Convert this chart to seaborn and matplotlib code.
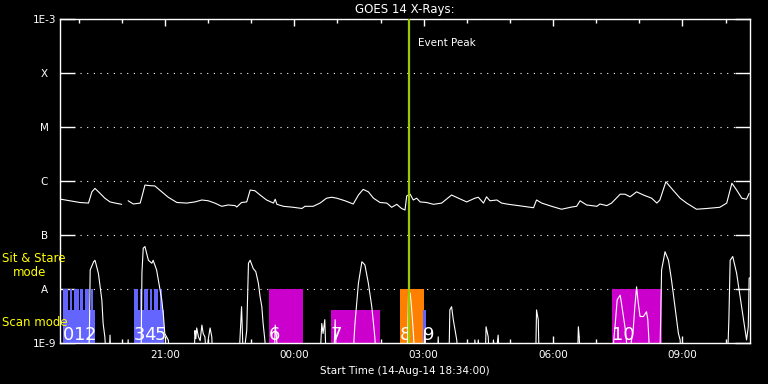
import numpy as np
import pandas as pd
import matplotlib
matplotlib.use('Agg')
import matplotlib.pyplot as plt
import matplotlib.dates as mdates
from matplotlib.ticker import FixedLocator, FixedFormatter, NullLocator
import seaborn as sns
from datetime import timedelta

# Periodo del grafico
start = pd.Timestamp('2014-08-14 18:34:00')
end = pd.Timestamp('2014-08-15 10:34:00')
event_peak = pd.Timestamp('2014-08-15 02:40:00')

# Canal largo GOES (1-8 A): horas desde el inicio, flujo en W/m2 (nan = hueco)
long_hours = [0.02, 0.23, 0.46, 0.66, 0.74, 0.81, 0.93, 1.04, 1.16, 1.28, 1.43, 1.50,
              1.58, 1.70, 1.86, 1.91, 1.97, 2.09, 2.20, 2.36, 2.51, 2.71, 2.94, 3.13,
              3.29, 3.44, 3.59, 3.75, 3.90, 4.06, 4.10, 4.21, 4.33, 4.41, 4.52, 4.64,
              4.79, 4.95, 4.99, 5.03, 5.18, 5.41, 5.61, 5.68, 5.87, 6.03, 6.18, 6.30,
              6.42, 6.61, 6.80, 6.92, 7.03, 7.15, 7.27, 7.42, 7.58, 7.69, 7.81, 7.92,
              8.00, 8.04, 8.12, 8.19, 8.27, 8.35, 8.50, 8.66, 8.85, 9.08, 9.24, 9.43,
              9.62, 9.70, 9.82, 9.89, 9.97, 10.13, 10.24, 10.40, 10.63, 10.98, 11.05,
              11.17, 11.40, 11.63, 11.87, 11.98, 12.06, 12.21, 12.45, 12.52, 12.68,
              12.79, 12.99, 13.10, 13.22, 13.37, 13.53, 13.72, 13.84, 13.91, 14.05,
              14.18, 14.38, 14.53, 14.76, 15.00, 15.30, 15.46, 15.58, 15.69, 15.81,
              15.92, 15.98]
long_flux = [4.6e-7, 4.3e-7, 4.0e-7, 3.9e-7, 6.3e-7, 7.3e-7, 5.9e-7, 4.8e-7, 4.1e-7, 3.9e-7, 3.7e-7, np.nan,
             4.3e-7, 3.75e-7, 3.9e-7, 5.5e-7, 8.4e-7, 8.2e-7, 8.1e-7, 6.3e-7, 5.0e-7, 4.0e-7, 3.9e-7, 4.1e-7,
             4.45e-7, 4.3e-7, 3.9e-7, 3.4e-7, 3.6e-7, 3.5e-7, 3.3e-7, 4.0e-7, 4.1e-7, 6.8e-7, 6.6e-7, 5.5e-7,
             4.45e-7, 3.9e-7, 4.6e-7, 3.7e-7, 3.4e-7, 3.26e-7, 3.1e-7, 3.4e-7, 3.4e-7, 3.9e-7, 4.8e-7, 5.0e-7,
             4.8e-7, 4.3e-7, 3.75e-7, 5.5e-7, 7.0e-7, 6.3e-7, 4.8e-7, 4.0e-7, 3.9e-7, 3.26e-7, 3.7e-7, 3.1e-7,
             2.9e-7, 5.3e-7, 5.7e-7, 4.45e-7, 4.8e-7, 4.1e-7, 4.0e-7, 3.7e-7, 3.9e-7, 5.5e-7, 4.8e-7, 4.1e-7,
             4.8e-7, 5.0e-7, 3.9e-7, 5.1e-7, 4.3e-7, 4.45e-7, 3.9e-7, 3.7e-7, 3.5e-7, 3.2e-7, 4.45e-7,
             3.9e-7, 3.4e-7, 3.0e-7, 3.3e-7, 3.4e-7, 4.3e-7, 3.6e-7, 3.4e-7, 3.75e-7, 3.5e-7,
             3.9e-7, 5.7e-7, 5.7e-7, 5.1e-7, 6.3e-7, 5.5e-7, 4.8e-7, 3.9e-7, 4.45e-7, 9.7e-7,
             7.3e-7, 4.8e-7, 3.9e-7, 3.0e-7, 3.1e-7, 3.26e-7, 3.9e-7, 9.1e-7, 6.8e-7, 4.8e-7,
             4.6e-7, 5.9e-7]

# Canal corto GOES (0.5-4 A)
short_hours = [0.00, 0.65, 0.68, 0.70, 0.78, 0.81, 0.83, 0.89, 0.97, 1.00, 1.04, 1.07,
               1.14, 1.16, 1.18, 1.56, 1.58, 1.60, 1.88, 1.90, 1.93, 1.97, 2.05, 2.13,
               2.16, 2.24, 2.32, 2.36, 2.40, 2.43, 2.51, 2.55, 3.11, 3.13, 3.15, 3.17,
               3.21, 3.25, 3.29, 3.32, 3.36, 3.40, 3.44, 3.48, 3.52, 3.54, 4.15, 4.21,
               4.25, 4.33, 4.37, 4.41, 4.48, 4.54, 4.60, 4.64, 4.68, 4.71, 4.75, 4.78,
               4.97, 4.99, 5.02, 5.05, 6.03, 6.07, 6.10, 6.14, 6.17, 6.35, 6.38, 6.41,
               6.79, 6.84, 6.92, 7.00, 7.07, 7.15, 7.23, 7.30, 7.33, 8.05, 8.08, 8.12,
               8.15, 8.19, 8.23, 8.43, 8.46, 8.49, 8.75, 8.77, 8.79, 9.02, 9.04, 9.08,
               9.12, 9.20, 9.23, 9.60, 9.62, 9.66, 9.70, 9.73, 9.86, 9.88, 9.93, 9.95,
               10.03, 10.05, 10.10, 10.16, 10.19, 11.03, 11.05, 11.09, 11.11, 12.00,
               12.02, 12.04, 12.06, 12.80, 12.87, 12.92, 12.99, 13.02, 13.10, 13.18,
               13.29, 13.33, 13.37, 13.40, 13.45, 13.53, 13.60, 13.63, 13.68, 13.91,
               13.95, 14.03, 14.11, 14.18, 14.26, 14.34, 14.38, 14.40, 15.48, 15.51,
               15.54, 15.60, 15.69, 15.77, 15.84, 15.92, 15.96, 15.98, 16.00]
short_flux = [5e-10, 5e-10, 1.2e-9, 2.25e-8, 3.2e-8, 3.4e-8, 3.0e-8, 1.95e-8, 6.3e-9, 2.3e-9, 1.3e-9, 5e-10,
              5e-10, 1.4e-9, 5e-10, 5e-10, 1.15e-9, 5e-10, 5e-10, 2.0e-8, 5.7e-8, 6.1e-8, 3.4e-8, 3.0e-8,
              3.4e-8, 2.25e-8, 9.6e-9, 6.3e-9, 3.1e-9, 1.5e-9, 1.14e-9, 5e-10, 5e-10, 1.7e-9, 1.2e-9, 1.9e-9,
              1.3e-9, 1.1e-9, 2.15e-9, 1.5e-9, 1.3e-9, 5e-10, 1.2e-9, 1.9e-9, 1.3e-9, 5e-10, 5e-10, 4.7e-9,
              5e-10, 1.7e-9, 3.0e-8, 3.4e-8, 2.4e-8, 2.1e-8, 1.28e-8, 7.2e-9, 4.7e-9, 2.3e-9, 1.14e-9, 5e-10,
              5e-10, 2.15e-9, 1.3e-9, 5e-10, 5e-10, 2.3e-9, 1.5e-9, 2.7e-9, 5e-10, 5e-10, 2.7e-9, 5e-10,
              5e-10, 2.3e-9, 1.28e-8, 3.2e-8, 2.8e-8, 1.28e-8, 4.7e-9, 1.3e-9, 5e-10, 5e-10, 7.2e-9, 8.4e-9,
              4.7e-9, 1.7e-9, 5e-10, 5e-10, 1.7e-9, 5e-10, 5e-10, 1.3e-9, 5e-10, 5e-10, 4.1e-9, 4.7e-9,
              2.7e-9, 1.14e-9, 5e-10, 5e-10, 1.14e-9, 5e-10, 1.14e-9, 5e-10, 5e-10, 2.0e-9, 1.3e-9, 5e-10,
              5e-10, 1.14e-9, 5e-10, 1.4e-9, 5e-10, 5e-10, 4.1e-9, 2.7e-9, 5e-10, 5e-10,
              2.0e-9, 1.3e-9, 5e-10, 5e-10, 2.0e-9, 6.3e-9, 7.7e-9, 5.4e-9, 2.0e-9, 5e-10,
              1.7e-9, 4.7e-9, 1.1e-8, 6.3e-9, 3.1e-9, 3.1e-9, 3.8e-9, 2.7e-9, 5e-10, 5e-10,
              2.25e-8, 4.9e-8, 3.4e-8, 1.47e-8, 4.7e-9, 1.5e-9, 1.14e-9, 5e-10, 5e-10, 2.7e-9,
              3.4e-8, 4.0e-8, 1.95e-8, 7.2e-9, 3.1e-9, 1.14e-9, 2.0e-9, 1.6e-8, 1.6e-8]

# Observaciones (modo: stare = sit & stare, scan, mixed = ambos)
obs_labels = ['0', '1', '2', '3', '4', '5', '6', '7', '8', '9', '10']
obs_start = ['2014-08-14 18:38:40', '2014-08-14 18:53:30', '2014-08-14 19:08:50',
             '2014-08-14 20:17:00', '2014-08-14 20:31:00', '2014-08-14 20:45:00',
             '2014-08-14 23:25:00', '2014-08-15 00:51:00', '2014-08-15 02:27:00',
             '2014-08-15 02:59:00', '2014-08-15 07:22:00']
obs_end = ['2014-08-14 18:53:30', '2014-08-14 19:08:50', '2014-08-14 19:22:40',
           '2014-08-14 20:31:00', '2014-08-14 20:45:00', '2014-08-14 20:58:40',
           '2014-08-15 00:12:00', '2014-08-15 01:59:00', '2014-08-15 03:00:00',
           '2014-08-15 03:03:00', '2014-08-15 08:31:00']
obs_mode = ['mixed', 'mixed', 'mixed', 'mixed', 'mixed', 'mixed',
            'stare', 'scan', 'stare', 'scan', 'stare']
obs_color = ['#6464ff', '#6464ff', '#6464ff', '#6464ff', '#6464ff', '#6464ff',
             '#cc00cc', '#cc00cc', '#ff8000', '#6464ff', '#cc00cc']

class_labels = ['1E-9', 'A', 'B', 'C', 'M', 'X', '1E-3']
class_flux = [1e-9, 1e-8, 1e-7, 1e-6, 1e-5, 1e-4, 1e-3]

mode_top = {'stare': 1e-8, 'scan': 4.1e-9}
floor = 1e-9

# Tablas
long_df = pd.DataFrame({'hours': long_hours, 'flux': long_flux})
long_df['part'] = long_df['flux'].isna().cumsum()
long_df = long_df.dropna()
long_df['time'] = start + pd.to_timedelta(long_df['hours'], unit='h')

short_df = pd.DataFrame({'hours': short_hours, 'flux': short_flux})
short_df['time'] = start + pd.to_timedelta(short_df['hours'], unit='h')
short_df['part'] = 0

# Estilo
sns.set_style('dark', {'axes.facecolor': 'black', 'figure.facecolor': 'black',
                       'axes.edgecolor': 'white', 'text.color': 'white',
                       'xtick.color': 'white', 'ytick.color': 'white',
                       'axes.labelcolor': 'white', 'grid.color': 'white'})
plt.rcParams['font.family'] = ['DejaVu Sans']

fig = plt.figure(figsize=(7.68, 3.84), dpi=100)
ax = fig.add_axes([60 / 768, 1 - 343 / 384, 690 / 768, 324 / 384])
ax.set_yscale('log')


def draw_bar(ax, s, e, top, col):
    ax.bar(x=s, height=top - floor, width=e - s, bottom=floor, align='edge',
           color=col, linewidth=0, zorder=1)


# Barras de observaciones
gap = timedelta(minutes=2.5)
for lab, s, e, mode, col in zip(obs_labels, obs_start, obs_end, obs_mode, obs_color):
    s = pd.Timestamp(s).to_pydatetime()
    e = pd.Timestamp(e).to_pydatetime()
    if mode == 'mixed':
        draw_bar(ax, s, e, mode_top['scan'], col)
        mid = s + (e - s) / 2
        draw_bar(ax, s, mid - gap / 2, mode_top['stare'], col)
        draw_bar(ax, mid + gap / 2, e - gap, mode_top['stare'], col)
    else:
        draw_bar(ax, s, e, mode_top[mode], col)
    ax.text(s, 1.15e-9, lab, color='white', fontsize=13, ha='left', va='baseline', zorder=3)

# Curvas GOES
sns.lineplot(data=long_df, x='time', y='flux', units='part', estimator=None, sort=False,
             color='white', linewidth=0.8, ax=ax, zorder=2)
sns.lineplot(data=short_df, x='time', y='flux', units='part', estimator=None, sort=False,
             color='white', linewidth=0.8, ax=ax, zorder=2)

# Pico del evento
ax.axvline(event_peak, color='#99cc00', linewidth=1.6, zorder=4)
ax.annotate('Event Peak', xy=(event_peak, 3.6e-4), xytext=(6.5, 0), textcoords='offset points',
            color='white', fontsize=7.5, va='center', ha='left')

# Ejes
ax.set_xlim(start, end)
ax.set_ylim(1e-9, 1e-3)
ax.yaxis.set_major_locator(FixedLocator(class_flux))
ax.yaxis.set_major_formatter(FixedFormatter(class_labels))
ax.yaxis.set_minor_locator(NullLocator())
ax.xaxis.set_major_locator(mdates.HourLocator(byhour=range(0, 24, 3)))
ax.xaxis.set_minor_locator(mdates.HourLocator())
ax.xaxis.set_major_formatter(mdates.DateFormatter('%H:%M'))

ax.tick_params(axis='y', which='major', direction='in', length=10.8, width=1,
               left=True, right=True, labelsize=7.5, pad=11.2)
for t in ax.get_yticklabels():
    t.set_horizontalalignment('center')
ax.tick_params(axis='x', which='major', direction='in', length=5, width=1,
               bottom=True, top=True, labelsize=7.5, pad=5)
ax.tick_params(axis='x', which='minor', direction='in', length=3, width=1,
               bottom=True, top=True)

ax.grid(False)
ax.yaxis.grid(True, which='major', color='white', linestyle=(0, (1, 5)), linewidth=0.8)
ax.set_axisbelow(True)
for sp in ax.spines.values():
    sp.set_color('white')
    sp.set_linewidth(1)

ax.set_xlabel('Start Time (14-Aug-14 18:34:00)', fontsize=7.5, labelpad=4)
ax.set_ylabel('')
ax.set_title('GOES 14 X-Rays:', fontsize=8.5, pad=4)

# Etiquetas de modo
fig.text(2 / 768, 1 - 259 / 384, 'Sit & Stare', color='yellow', fontsize=8.5, va='center', ha='left')
fig.text(13 / 768, 1 - 272 / 384, 'mode', color='yellow', fontsize=8.5, va='center', ha='left')
fig.text(2 / 768, 1 - 323 / 384, 'Scan mode', color='yellow', fontsize=8.5, va='center', ha='left')

plt.savefig('out.png', dpi=100, facecolor='black')
